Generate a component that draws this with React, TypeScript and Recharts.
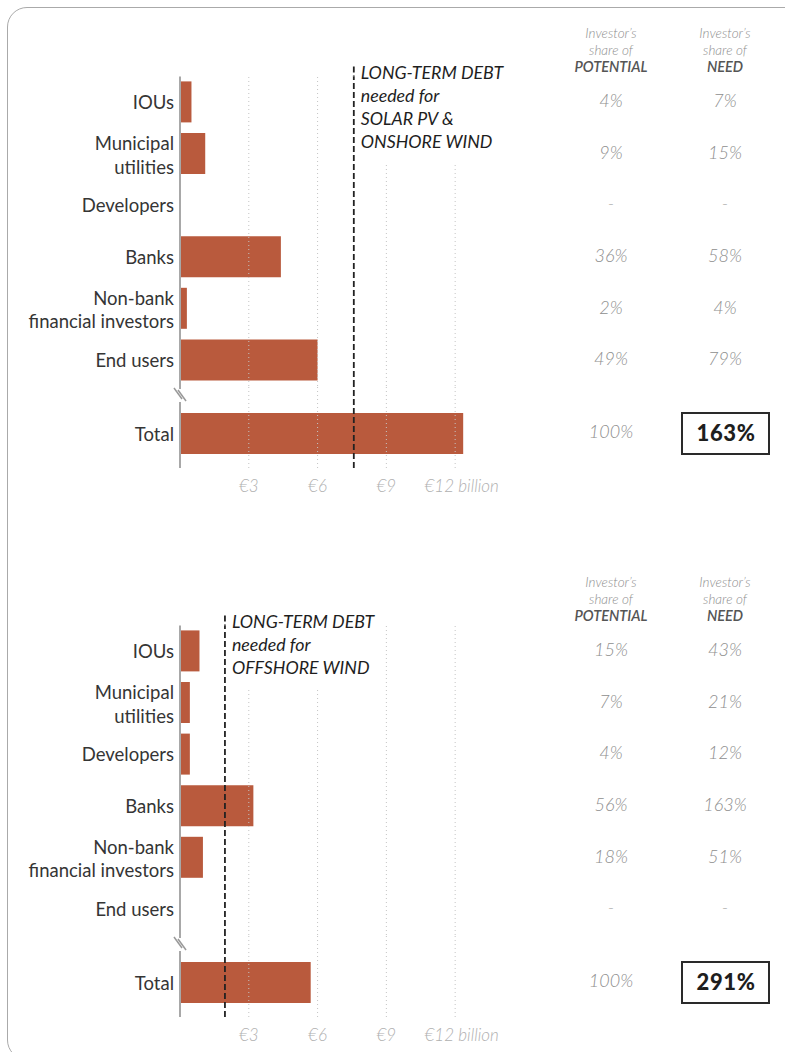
import React from 'react';
import { BarChart, Bar, XAxis, YAxis, ReferenceLine } from 'recharts';

const categories = ['IOUs', 'Municipal\nutilities', 'Developers', 'Banks', 'Non-bank\nfinancial investors', 'End users'];
const tickValues = [3, 6, 9, 12];
const tickLabels = ['€3', '€6', '€9', '€12 billion'];

// solar PV & onshore wind (€ billion)
const solarValues = [0.5, 1.1, 0, 4.4, 0.3, 6.0];
const solarPotential = ['4%', '9%', '-', '36%', '2%', '49%'];
const solarNeedShare = ['7%', '15%', '-', '58%', '4%', '79%'];
const solarTotal = 12.35;
const solarNeed = 7.58;
const solarTotalShares = ['100%', '163%'];
const solarNote = ['LONG-TERM DEBT', 'needed for', 'SOLAR PV &', 'ONSHORE WIND'];

// offshore wind (€ billion)
const offshoreValues = [0.85, 0.43, 0.43, 3.2, 1.0, 0];
const offshorePotential = ['15%', '7%', '4%', '56%', '18%', '-'];
const offshoreNeedShare = ['43%', '21%', '12%', '163%', '51%', '-'];
const offshoreTotal = 5.7;
const offshoreNeed = 1.96;
const offshoreTotalShares = ['100%', '291%'];
const offshoreNote = ['LONG-TERM DEBT', 'needed for', 'OFFSHORE WIND'];

const FONT = 'Lato, "Open Sans", sans-serif';
const BAR = '#b95a3d';
const GRID = '#c4c4c4';
const X_MAX = 15.7;

const CategoryTick = (props: any) => {
  const { x, y, payload } = props;
  const lines = String(payload.value).split('\n');
  const first = lines.length > 1 ? -3.5 : 7;
  return (
    <text textAnchor="end" fill="#353535" fontSize={18.5} fontFamily={FONT}>
      {lines.map((l, i) => (
        <tspan key={i} x={x} y={y + first + i * 23.3}>{l}</tspan>
      ))}
    </text>
  );
};

const shareTick = (potential: string[], need: string[]) => (props: any) => {
  const { x, y, index } = props;
  return (
    <g fontFamily={FONT} fontStyle="italic" fontWeight={300} fontSize={18} fill="#8e8e8e">
      <text x={x + 71} y={y + 5} textAnchor="middle">{potential[index]}</text>
      <text x={x + 185} y={y + 5} textAnchor="middle">{need[index]}</text>
    </g>
  );
};

const totalTick = (shares: string[]) => (props: any) => {
  const { x, y } = props;
  return (
    <g fontFamily={FONT}>
      <text x={x + 71} y={y + 4} textAnchor="middle" fontStyle="italic" fontWeight={300} fontSize={18} fill="#8e8e8e">
        {shares[0]}
      </text>
      <rect x={x + 142} y={y - 20.5} width={87} height={41} fill="#fff" stroke="#2a2a2a" strokeWidth={2} />
      <text x={x + 186} y={y + 7.5} textAnchor="middle" fontWeight={900} fontSize={22} fill="#1e1e1e" letterSpacing={0.6}>
        {shares[1]}
      </text>
    </g>
  );
};

const MoneyTick = (props: any) => {
  const { x, y, index } = props;
  const last = index === tickLabels.length - 1;
  return (
    <text x={x + (last ? 6.5 : 0)} y={y + 23.7} textAnchor="middle" fontFamily={FONT} fontStyle="italic"
      fontWeight={300} fontSize={17} fill="#b0b0b0">
      {tickLabels[index]}
    </text>
  );
};

const NoteLabel = (props: any) => {
  const { viewBox, lines } = props;
  const x = viewBox.x;
  const y = viewBox.y;
  const h = 20 + 3 + (lines.length - 1) * 22.9 + 15;
  return (
    <g>
      <rect x={x + 3} y={y - 20} width={152} height={h} fill="#fff" />
      <line x1={x} x2={x} y1={y - 10} y2={y} stroke="#222" strokeWidth={1.8} strokeDasharray="6 3" />
      <text fontFamily={FONT} fontStyle="italic" fontSize={17.8} fill="#1e1e1e">
        {lines.map((l: string, i: number) => (
          <tspan key={i} x={x + 7} y={y + 3 + i * 22.9}>{l}</tspan>
        ))}
      </text>
    </g>
  );
};

const Header = ({ bold }: { bold: string[] }) => (
  <svg width={785} height={80} style={{ position: 'absolute', left: 0, top: 0 }}>
    {[611, 725].map((cx, i) => (
      <g key={cx} fontFamily={FONT} fontStyle="italic" textAnchor="middle">
        <text x={cx} y={37.5} fontSize={13.5} fontWeight={300} fill="#8e8e8e">Investor’s</text>
        <text x={cx} y={54.5} fontSize={13.5} fontWeight={300} fill="#8e8e8e">share of</text>
        <text x={cx} y={71.5} fontSize={14.5} fontWeight={600} fill="#555">{bold[i]}</text>
      </g>
    ))}
  </svg>
);

const gridLines = () =>
  tickValues.map((v) => (
    <ReferenceLine key={v} x={v} yAxisId="l" stroke={GRID} strokeWidth={1} strokeDasharray="1 3" />
  ));

function Panel(p: {
  top: number;
  values: number[];
  potential: string[];
  needShare: string[];
  total: number;
  need: number;
  totalShares: string[];
  note: string[];
}) {
  const rows = categories.map((name, i) => ({ name, value: p.values[i] }));
  const totalRow = [{ name: 'Total', value: p.total }];
  return (
    <div style={{ position: 'absolute', left: 0, top: p.top, width: 785, height: 520 }}>
      <Header bold={['POTENTIAL', 'NEED']} />
      <div style={{ position: 'absolute', left: 0, top: 0 }}>
        <BarChart width={785} height={386} data={rows} layout="vertical" margin={{ top: 76.4, right: 0, bottom: 0, left: 0 }}>
          <XAxis type="number" domain={[0, X_MAX]} ticks={tickValues} hide />
          <YAxis yAxisId="l" type="category" dataKey="name" width={180} tickLine={false} tickSize={0} tickMargin={6}
            axisLine={{ stroke: '#a8a8a8', strokeWidth: 2 }} tick={<CategoryTick />} interval={0} />
          <YAxis yAxisId="r" orientation="right" type="category" dataKey="name" width={245} axisLine={false}
            tickLine={false} tickSize={0} tickMargin={0} tick={shareTick(p.potential, p.needShare)} interval={0} />
          <Bar yAxisId="l" dataKey="value" fill={BAR} barSize={41} isAnimationActive={false} />
          {gridLines()}
          <ReferenceLine x={p.need} yAxisId="l" stroke="#222" strokeWidth={1.8} strokeDasharray="6 3"
            label={<NoteLabel lines={p.note} />} />
        </BarChart>
      </div>
      <div style={{ position: 'absolute', left: 0, top: 386 }}>
        <BarChart width={785} height={122} data={totalRow} layout="vertical" margin={{ top: 0, right: 0, bottom: 0, left: 0 }}>
          <XAxis type="number" domain={[0, X_MAX]} ticks={tickValues} height={40} axisLine={false} tickLine={false}
            tickSize={0} tickMargin={0} tick={<MoneyTick />} interval={0} />
          <YAxis yAxisId="l" type="category" dataKey="name" width={180} tickLine={false} tickSize={0} tickMargin={6}
            padding={{ top: 13, bottom: 0 }} axisLine={{ stroke: '#a8a8a8', strokeWidth: 2 }} tick={<CategoryTick />} />
          <YAxis yAxisId="r" orientation="right" type="category" dataKey="name" width={245} axisLine={false}
            padding={{ top: 13, bottom: 0 }} tickLine={false} tickSize={0} tickMargin={0} tick={totalTick(p.totalShares)} />
          <Bar yAxisId="l" dataKey="value" fill={BAR} barSize={41} isAnimationActive={false} />
          {gridLines()}
          <ReferenceLine x={p.need} yAxisId="l" stroke="#222" strokeWidth={1.8} strokeDasharray="6 3" />
        </BarChart>
      </div>
      <svg width={20} height={25} style={{ position: 'absolute', left: 170, top: 386 }}>
        <rect x={8} y={3} width={4} height={13} fill="#fff" />
        <line x1={4} y1={2} x2={12} y2={13} stroke="#999" strokeWidth={1.5} />
        <line x1={8} y1={4} x2={16} y2={15} stroke="#999" strokeWidth={1.5} />
      </svg>
    </div>
  );
}

export default function App() {
  return (
    <div style={{ position: 'relative', width: 785, height: 1052, overflow: 'hidden', background: '#fff', fontFamily: FONT }}>
      <style>{'body{margin:0}'}</style>
      <div style={{ position: 'absolute', left: 7, top: 7, width: 800, height: 1053, border: '1.5px solid #aaa',
        borderRadius: 20, boxSizing: 'border-box' }} />
      <Panel top={0} values={solarValues} potential={solarPotential} needShare={solarNeedShare} total={solarTotal}
        need={solarNeed} totalShares={solarTotalShares} note={solarNote} />
      <Panel top={549.3} values={offshoreValues} potential={offshorePotential} needShare={offshoreNeedShare}
        total={offshoreTotal} need={offshoreNeed} totalShares={offshoreTotalShares} note={offshoreNote} />
    </div>
  );
}
